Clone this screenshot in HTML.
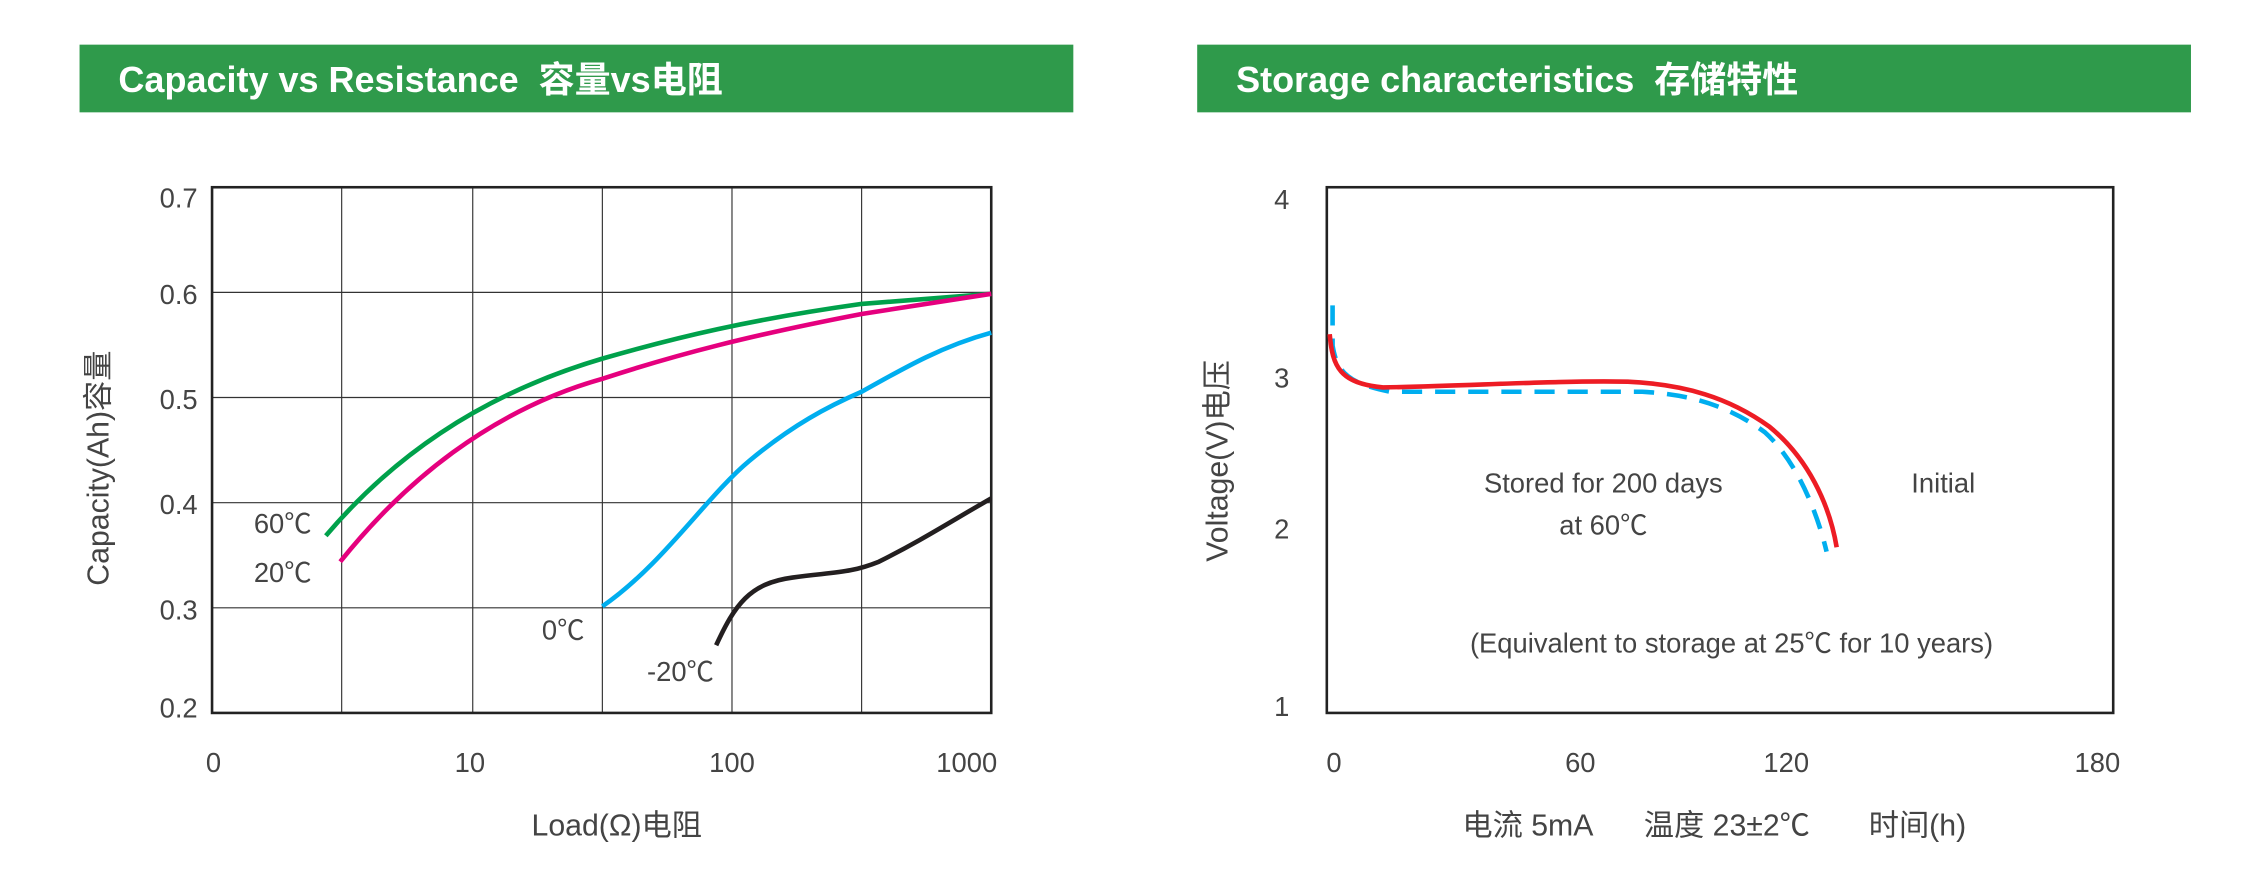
<!DOCTYPE html>
<html><head><meta charset="utf-8"><style>
html,body{margin:0;padding:0;background:#fff;}
svg{display:block;}
text{font-family:"Liberation Sans","Noto Sans CJK SC",sans-serif;fill:#444;}
.b{font-weight:bold;fill:#fff;font-size:25px;}
.t{font-size:19px;}
</style></head><body>
<svg width="2259" height="880" viewBox="0 0 1568 611" xmlns="http://www.w3.org/2000/svg">
<rect x="55" y="31" width="690" height="47" fill="#2f9a4b"/>
<rect x="831" y="31" width="690" height="47" fill="#2f9a4b"/>
<text class="b" x="82" y="64">Capacity vs Resistance&#160; 容量vs电阻</text>
<text class="b" x="858" y="64">Storage characteristics&#160; 存储特性</text>

<g stroke="#333" stroke-width="0.8" fill="none">
<line x1="237" y1="130" x2="237" y2="495"/><line x1="328" y1="130" x2="328" y2="495"/>
<line x1="418" y1="130" x2="418" y2="495"/><line x1="508" y1="130" x2="508" y2="495"/>
<line x1="598" y1="130" x2="598" y2="495"/>
<line x1="147" y1="203" x2="688" y2="203"/><line x1="147" y1="276" x2="688" y2="276"/>
<line x1="147" y1="349" x2="688" y2="349"/><line x1="147" y1="422" x2="688" y2="422"/>
</g>
<rect x="147" y="130" width="541" height="365" fill="none" stroke="#222" stroke-width="1.8"/>
<g class="t" text-anchor="end">
<text x="137" y="144">0.7</text><text x="137" y="211">0.6</text><text x="137" y="284">0.5</text>
<text x="137" y="357">0.4</text><text x="137" y="430">0.3</text><text x="137" y="498">0.2</text>
</g>
<g class="t" text-anchor="middle">
<text x="148" y="536">0</text><text x="326" y="536">10</text><text x="508" y="536">100</text><text x="671" y="536">1000</text>
<text x="428" y="580" font-size="21">Load(Ω)电阻</text>
</g>
<text x="0" y="0" font-size="21" text-anchor="middle" transform="translate(75,325) rotate(-90)">Capacity(Ah)容量</text>
<g fill="none" stroke-width="3.2">
<path d="M226,372 C270,320 330,275 418,249 C470,234 520,222 598,211 L688,204" stroke="#00a14b"/>
<path d="M236,390 C280,335 340,285 418,263 C470,246 520,233 598,218 L688,204" stroke="#e5007e"/>
<path d="M418,421 C460,392 490,345 520,320 C550,295 575,282 598,272 C630,254 655,240 688,231" stroke="#00aeef"/>
<path d="M497,448 C510,420 520,405 550,401 C580,397 590,398 610,390 C640,375 660,362 688,346" stroke="#231f20"/>
</g>
<g class="t">
<text x="176" y="370">60℃</text><text x="176" y="404">20℃</text>
<text x="376" y="444">0℃</text><text x="449" y="473">-20℃</text>
</g>

<rect x="921" y="130" width="546" height="365" fill="none" stroke="#222" stroke-width="1.8"/>
<g class="t" text-anchor="end">
<text x="895" y="145">4</text><text x="895" y="269">3</text><text x="895" y="374">2</text><text x="895" y="497">1</text>
</g>
<g class="t" text-anchor="middle">
<text x="926" y="536">0</text><text x="1097" y="536">60</text><text x="1240" y="536">120</text><text x="1456" y="536">180</text>
<text x="1190" y="580" font-size="21">电流 5mA&#160;&#160;&#160;&#160;&#160; 温度 23±2℃&#160;&#160;&#160;&#160;&#160;&#160; 时间(h)</text>
</g>
<text x="0" y="0" font-size="21" text-anchor="middle" transform="translate(852,320) rotate(-90)">Voltage(V)电压</text>
<g fill="none" stroke-width="3.2">
<path d="M925,212 L925,240 C928,258 935,266 965,272 L1140,272 C1175,274 1200,282 1225,300 C1245,318 1260,350 1268,383" stroke="#00aeef" stroke-dasharray="14,9"/>
<path d="M923,232 C925,255 930,266 960,269 C1020,268 1080,264 1130,265 C1170,267 1200,276 1228,296 C1255,318 1270,350 1275,380" stroke="#ed1c24"/>
</g>
<g class="t" text-anchor="middle">
<text x="1113" y="342">Stored for 200 days</text><text x="1113" y="371">at 60℃</text>
<text x="1349" y="342">Initial</text>
<text x="1202" y="453">(Equivalent to storage at 25℃ for 10 years)</text>
</g>
</svg>
</body></html>
